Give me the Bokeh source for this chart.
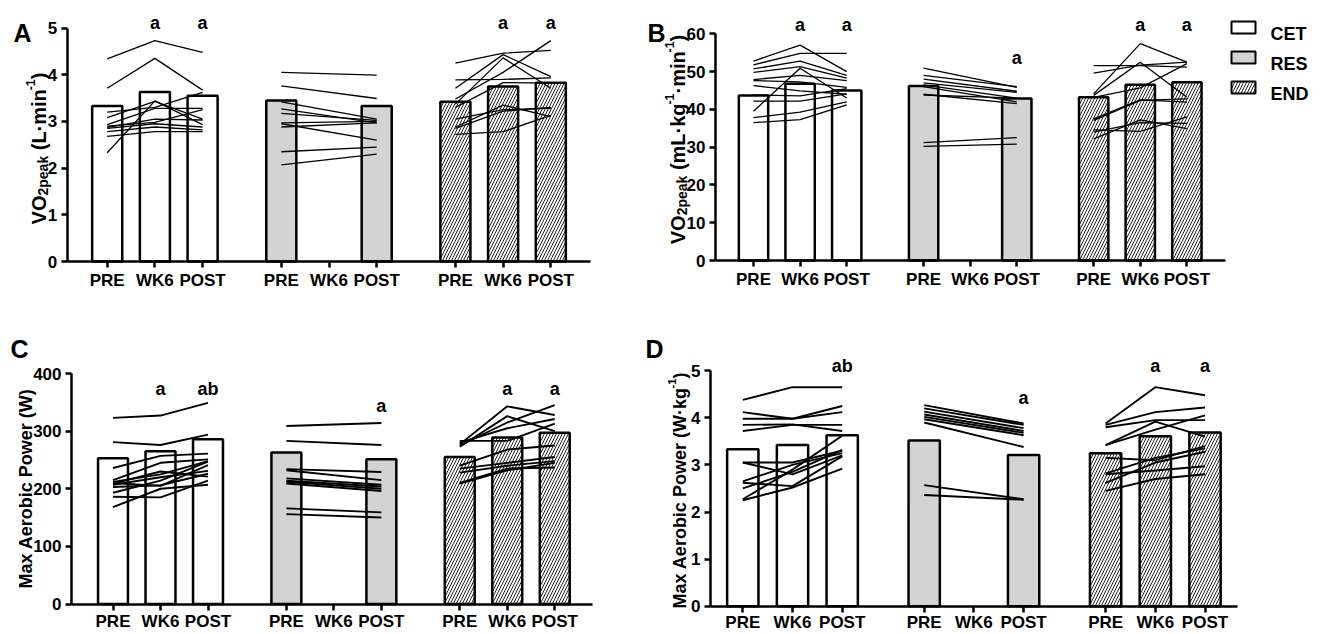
import math
from bokeh.plotting import figure
from bokeh.layouts import column, row
from bokeh.models import Range1d, FixedTicker
from bokeh.core.properties import value
from bokeh.embed import file_html
from bokeh.resources import INLINE

# ---------------- data ----------------
TIMES = ["PRE", "WK6", "POST"]
GROUPS = ["CET", "RES", "END"]
CET_TIMES = [0, 1, 2]
RES_TIMES = [0, 2]          # RES has no WK6 test
END_TIMES = [0, 1, 2]

# Panel A: VO2peak (L/min)
A_CET_MEAN = [3.33, 3.63, 3.55]
A_RES_MEAN = [3.45, 3.33]
A_END_MEAN = [3.42, 3.75, 3.83]
A_CET_SUBJ = [[4.34, 4.73, 4.48], [3.71, 4.35, 3.67], [2.33, 3.44, 2.93], [3.20, 3.30, 3.62],
              [3.08, 3.43, 3.05], [2.93, 3.28, 3.28], [2.90, 2.98, 3.25], [2.87, 3.05, 3.03],
              [2.85, 2.95, 2.88], [2.78, 2.88, 2.82], [2.68, 2.78, 2.78]]
A_RES_SUBJ = [[4.05, 3.99], [3.76, 3.49], [3.42, 3.05], [3.27, 2.97], [3.17, 3.02],
              [2.97, 3.00], [2.95, 2.60], [2.88, 2.97], [2.35, 2.45], [2.07, 2.30]]
A_END_SUBJ = [[4.25, 4.46, 4.52], [3.89, 3.90, 3.93], [3.71, 4.43, 3.96], [3.48, 4.05, 4.73],
              [3.37, 4.36, 3.71], [3.30, 3.83, 3.82], [3.05, 3.25, 3.28], [2.88, 3.35, 3.10],
              [2.85, 3.22, 3.30], [2.72, 2.78, 3.13]]
A_SIG = [(0, 1, "a"), (0, 2, "a"), (2, 1, "a"), (2, 2, "a")]

# Panel B: VO2peak (mL/kg/min)
B_CET_MEAN = [43.7, 46.8, 45.0]
B_RES_MEAN = [46.2, 42.9]
B_END_MEAN = [43.2, 46.5, 47.2]
B_CET_SUBJ = [[52.8, 57.0, 50.0], [51.8, 54.8, 54.8], [50.7, 52.8, 49.0], [49.8, 51.3, 48.3],
              [47.9, 49.0, 47.6], [47.6, 47.3, 45.8], [46.3, 44.9, 44.0], [39.5, 50.9, 43.0],
              [43.8, 43.6, 45.5], [42.2, 42.2, 44.1], [37.8, 39.3, 42.0], [36.5, 37.3, 41.2]]
B_RES_SUBJ = [[50.9, 45.8], [49.0, 46.0], [48.0, 44.8], [47.0, 44.5], [46.5, 43.0],
              [46.0, 42.0], [44.0, 41.5], [43.8, 43.0], [31.2, 32.5], [30.2, 30.8]]
B_END_SUBJ = [[51.6, 51.6, 51.2], [49.6, 51.7, 52.5], [44.1, 57.4, 52.5], [43.7, 52.5, 43.2],
              [43.2, 45.7, 52.1], [37.1, 42.4, 42.8], [37.5, 42.5, 41.9], [34.6, 34.2, 38.0],
              [32.2, 37.2, 34.9], [34.0, 36.5, 36.3]]
B_SIG = [(0, 1, "a"), (0, 2, "a"), (1, 2, "a"), (2, 1, "a"), (2, 2, "a")]

# Panel C: Max Aerobic Power (W)
C_CET_MEAN = [253, 265, 286]
C_RES_MEAN = [263, 251]
C_END_MEAN = [255, 289, 297]
C_CET_SUBJ = [[323, 327, 349], [281, 276, 294], [236, 257, 261], [215, 245, 251],
              [212, 225, 248], [210, 205, 241], [207, 220, 231], [203, 206, 226],
              [193, 214, 247], [186, 185, 214], [168, 200, 207], [209, 230, 221]]
C_RES_SUBJ = [[309, 314], [283, 276], [234, 229], [232, 215], [218, 207],
              [214, 204], [212, 200], [209, 196], [166, 159], [156, 150]]
C_END_SUBJ = [[283, 283, 313], [277, 343, 328], [273, 326, 300], [275, 315, 345],
              [280, 305, 321], [240, 268, 275], [235, 245, 255], [228, 240, 248],
              [210, 235, 237], [209, 232, 245]]
C_SIG = [(0, 1, "a"), (0, 2, "ab"), (1, 2, "a"), (2, 1, "a"), (2, 2, "a")]

# Panel D: Max Aerobic Power (W/kg)
D_CET_MEAN = [3.33, 3.42, 3.63]
D_RES_MEAN = [3.52, 3.21]
D_END_MEAN = [3.25, 3.61, 3.69]
D_CET_SUBJ = [[4.38, 4.65, 4.65], [4.12, 3.98, 4.25], [3.98, 3.98, 4.12], [3.85, 3.86, 3.72],
              [3.72, 3.85, 3.85], [3.05, 3.05, 3.30], [3.05, 2.80, 3.20], [2.65, 3.00, 3.25],
              [2.62, 2.55, 3.18], [2.50, 2.85, 3.32], [2.25, 2.52, 2.92], [2.27, 2.90, 3.62]]
D_RES_SUBJ = [[4.27, 3.88], [4.20, 3.85], [4.13, 3.78], [4.07, 3.72], [4.02, 3.68],
              [3.97, 3.63], [3.90, 3.38], [2.57, 2.27], [2.36, 2.26]]
D_END_SUBJ = [[3.88, 4.65, 4.48], [3.85, 4.12, 4.22], [3.80, 3.95, 3.95], [3.42, 3.92, 3.60],
              [3.42, 3.75, 4.05], [3.15, 3.10, 3.40], [2.82, 3.15, 3.35], [2.80, 2.88, 2.97],
              [2.62, 3.05, 3.28], [2.45, 2.70, 2.80]]
D_SIG = [(0, 2, "ab"), (1, 2, "a"), (2, 1, "a"), (2, 2, "a")]

# ---------------- layout / style ----------------
FONT = "Liberation Sans"
GROUP_OFFSET = 3.65
BAR_WIDTH = 0.63
NB = "\u00a0"   # non-breaking space (SVG collapses plain leading spaces)

AW = {' ': 278, NB: 278, '(': 333, ')': 333, '-': 333, '\u00b7': 278, 'A': 722, 'L': 611,
      'M': 833, 'O': 778, 'P': 667, 'V': 667, 'W': 944, 'a': 556, 'b': 611, 'c': 556,
      'e': 556, 'g': 611, 'i': 278, 'k': 556, 'm': 889, 'n': 611, 'o': 611, 'p': 611,
      'r': 389, 'w': 778, 'x': 556}


def text_width(s, size):
    return sum(AW.get(c, 556) for c in s) * size / 1000.0


def xpos(g, t):
    return round(g * GROUP_OFFSET + t, 4)


def make_panel(sp):
    pre, slot, y0, ppu = sp["pre"], sp["slot"], sp["y0"], sp["ppu"]
    fx0, fx1, fy0, fy1 = sp["extent"]

    def X(r):
        return (r - pre) / slot

    def Y(r):
        return (y0 - r) / ppu

    p = figure(width=int(fx1 - fx0), height=int(fy1 - fy0),
               x_range=Range1d(X(fx0), X(fx1)), y_range=Range1d(Y(fy1), Y(fy0)),
               output_backend="svg", toolbar_location=None, min_border=0)
    p.outline_line_color = None
    p.grid.visible = False
    p.background_fill_color = "white"
    p.border_fill_color = "white"

    times = [CET_TIMES, RES_TIMES, END_TIMES]
    styles = [dict(fill_color="white"),
              dict(fill_color="#d3d3d3"),
              dict(fill_color="white", hatch_pattern="/", hatch_scale=6.0,
                   hatch_weight=1.0, hatch_color="#222222")]
    for g in range(3):
        p.vbar(x=[xpos(g, t) for t in times[g]], top=sp["means"][g], bottom=0,
               width=BAR_WIDTH, line_color="black", line_width=2.5, **styles[g])
    for g in range(3):
        subj = sp["subjects"][g]
        p.multi_line(xs=[[xpos(g, t) for t in times[g]] for _ in subj], ys=subj,
                     line_color="black", line_width=sp["lw"])

    # axes
    ticks = [xpos(g, t) for g in range(3) for t in range(3)]
    xa = p.xaxis[0]
    xa.ticker = FixedTicker(ticks=ticks)
    xa.major_label_overrides = {xpos(g, t): TIMES[t] for g in range(3) for t in range(3)}
    xa.bounds = (X(sp["ax_x"]), X(sp["ax_end"]))
    xa.fixed_location = 0
    ya = p.yaxis[0]
    ya.ticker = FixedTicker(ticks=list(range(0, sp["ymax"] + 1, sp["ystep"])))
    ya.bounds = (0, sp["ymax"])
    ya.fixed_location = X(sp["ax_x"])
    for ax in (xa, ya):
        ax.axis_line_width = 2.5
        ax.axis_line_color = "black"
        ax.major_tick_line_width = 2.5
        ax.major_tick_line_color = "black"
        ax.major_tick_out = 6
        ax.major_tick_in = 0
        ax.minor_tick_line_color = None
        ax.major_label_text_font = FONT
        ax.major_label_text_font_style = "bold"
        ax.major_label_text_font_size = "17px"
        ax.major_label_text_color = "black"
    xa.major_label_standoff = sp["xstand"]
    ya.major_label_standoff = 4

    # significance letters
    sx, sy, st = [], [], []
    for (g, t, s), base in zip(sp["sig"], sp["sig_base"]):
        sx.append(xpos(g, t))
        sy.append(Y(base))
        st.append(s)
    p.text(x=sx, y=sy, text=st, text_font=value(FONT), text_font_style="bold",
           text_font_size="18px", text_align="center", text_baseline="alphabetic",
           text_color="black")

    # panel letter
    lx, ly = sp["letter_pos"]
    p.text(x=[X(lx)], y=[Y(ly)], text=[sp["letter"]], text_font=value(FONT),
           text_font_style="bold", text_font_size="25px", text_align="left",
           text_baseline="alphabetic", text_color="black")

    # rotated y-axis title built from pieces (sub/superscripts)
    size = sp["ysize"]
    pieces = sp["ylabel"]
    sizes = {"n": size, "sub": size * 0.7, "sup": size * 0.62}
    shift = {"n": 0.0, "sub": size * 0.24, "sup": -size * 0.42}
    total = sum(text_width(s, sizes[k]) for s, k in pieces)
    bx, cy = sp["ylabel_pos"]
    cum = 0.0
    for s, k in pieces:
        p.text(x=[X(bx + shift[k])], y=[Y(cy + total / 2 - cum)], text=[s], angle=math.pi / 2,
               text_font=value(FONT), text_font_style="bold",
               text_font_size=f"{sizes[k]:.1f}px", text_align="left",
               text_baseline="alphabetic", text_color="black")
        cum += text_width(s, sizes[k])

    # legend (panel B)
    if sp.get("legend"):
        centers = [27, 57, 87]
        for g in range(3):
            p.rect(x=[X(1243)], y=[Y(centers[g])], width=24, height=12,
                   width_units="screen", height_units="screen",
                   line_color="black", line_width=2, **styles[g])
        p.text(x=[X(1270)] * 3, y=[Y(c + 6.4) for c in centers], text=GROUPS,
               text_font=value(FONT), text_font_style="bold", text_font_size="18px",
               text_align="left", text_baseline="alphabetic", text_color="black")
    return p


VO_SUB = [("VO", "n"), ("2peak", "sub")]

panels = [
    dict(extent=(0, 640, 0, 317), pre=106.7, slot=47.7, ax_x=66.7, ax_end=590,
         y0=261, ppu=46.7, ymax=5, ystep=1, lw=1.3, xstand=3,
         means=[A_CET_MEAN, A_RES_MEAN, A_END_MEAN],
         subjects=[A_CET_SUBJ, A_RES_SUBJ, A_END_SUBJ],
         sig=A_SIG, sig_base=[22, 22, 22, 22], letter="A", letter_pos=(13, 32),
         ylabel=VO_SUB + [(NB + "(L\u00b7min", "n"), ("-1", "sup"), (")", "n")],
         ysize=20, ylabel_pos=(38, 148)),
    dict(extent=(640, 1320, 0, 317), pre=753, slot=46.6, ax_x=715, ax_end=1225,
         y0=260, ppu=3.778, ymax=60, ystep=10, lw=1.3, xstand=3,
         means=[B_CET_MEAN, B_RES_MEAN, B_END_MEAN],
         subjects=[B_CET_SUBJ, B_RES_SUBJ, B_END_SUBJ],
         sig=B_SIG, sig_base=[24, 24, 57, 24, 24], letter="B", letter_pos=(647, 32),
         ylabel=VO_SUB + [(NB + "(mL\u00b7kg", "n"), ("-1", "sup"), ("\u00b7min", "n"),
                          ("-1", "sup"), (")", "n")],
         ysize=20, ylabel_pos=(677, 139), legend=True),
    dict(extent=(0, 640, 317, 634), pre=112.5, slot=47.5, ax_x=71, ax_end=592,
         y0=603.5, ppu=0.57625, ymax=400, ystep=100, lw=1.9, xstand=2,
         means=[C_CET_MEAN, C_RES_MEAN, C_END_MEAN],
         subjects=[C_CET_SUBJ, C_RES_SUBJ, C_END_SUBJ],
         sig=C_SIG, sig_base=[388, 388, 405, 388, 388], letter="C", letter_pos=(10, 348),
         ylabel=[("Max Aerobic Power (W)", "n")],
         ysize=18, ylabel_pos=(25, 488)),
    dict(extent=(640, 1320, 317, 634), pre=742.3, slot=49.7, ax_x=710, ax_end=1236.7,
         y0=605.7, ppu=47.1, ymax=5, ystep=1, lw=1.9, xstand=1,
         means=[D_CET_MEAN, D_RES_MEAN, D_END_MEAN],
         subjects=[D_CET_SUBJ, D_RES_SUBJ, D_END_SUBJ],
         sig=D_SIG, sig_base=[365, 397, 365, 365], letter="D", letter_pos=(645, 348),
         ylabel=[("Max Aerobic Power (W\u00b7kg", "n"), ("-1", "sup"), (")", "n")],
         ysize=18, ylabel_pos=(679, 490)),
]

figs = [make_panel(sp) for sp in panels]
layout = column(row(figs[0], figs[1]), row(figs[2], figs[3]))

with open("out.html", "w") as f:
    f.write(file_html(layout, INLINE))
